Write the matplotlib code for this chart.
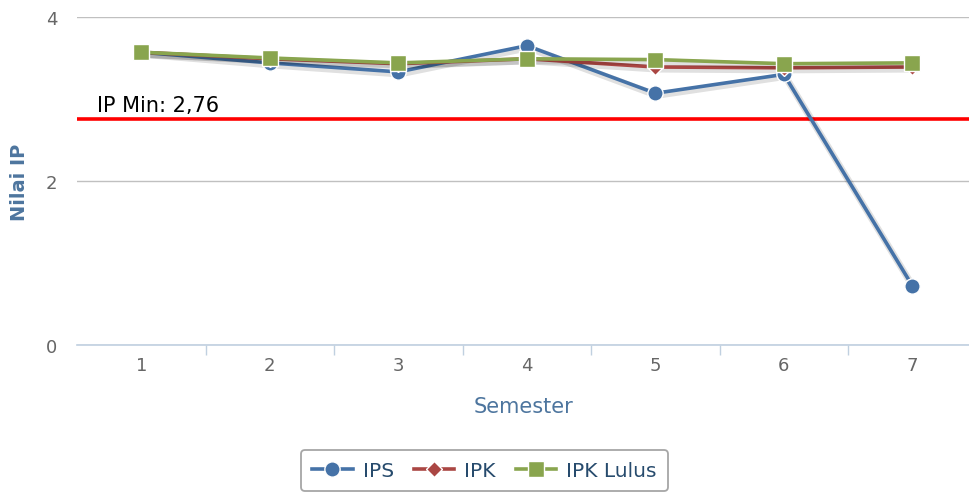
import matplotlib
matplotlib.use("Agg")
import matplotlib.pyplot as plt
import matplotlib.patheffects as pe
from matplotlib.ticker import FixedLocator

semester = [1, 2, 3, 4, 5, 6, 7]
ips = [3.57, 3.44, 3.33, 3.65, 3.07, 3.30, 0.72]
ipk = [3.57, 3.49, 3.43, 3.49, 3.39, 3.38, 3.39]
ipk_lulus = [3.57, 3.50, 3.44, 3.49, 3.48, 3.43, 3.44]
ip_min = 2.76
y_ticks = [0, 2, 4]

fig = plt.figure(figsize=(9.69, 5.02), dpi=100)
ax = fig.add_axes([0.0795, 0.3108, 0.9205, 0.6534])

shadow = [pe.SimpleLineShadow(offset=(1, -1.5), shadow_color="black", alpha=0.12, linewidth=5),
          pe.Normal()]

ax.axhline(ip_min, color="#ff0000", lw=2.6, zorder=2)
ax.text(0.656, 2.85, "IP Min: 2,76", fontsize=15, color="black",
        ha="left", va="baseline", zorder=3)

series = [
    (ips, "#4572a7", "o", 11, "IPS"),
    (ipk, "#aa4643", "D", 8, "IPK"),
    (ipk_lulus, "#89a54e", "s", 11, "IPK Lulus"),
]
for i, (vals, col, mk, size, name) in enumerate(series):
    ax.plot(semester, vals, color=col, lw=2.6, path_effects=shadow, zorder=4 + i)
    ax.plot(semester, vals, color=col, lw=0, marker=mk, ms=size,
            mec="white", mew=1, zorder=10 + i)
    # legend proxy
    ax.plot([], [], color=col, lw=2.6, marker=mk, ms=size, mec="white", mew=1, label=name)

ax.set_xlim(0.5, 7.44)
ax.set_ylim(0, 4)
ax.set_yticks(y_ticks)
ax.set_xticks(semester)
ax.xaxis.set_minor_locator(FixedLocator([s + 0.5 for s in semester]))
ax.tick_params(axis="x", which="major", length=0, pad=8, labelsize=13, labelcolor="#666666")
ax.tick_params(axis="x", which="minor", length=7, width=1, color="#c0d0e0")
ax.tick_params(axis="y", length=0, pad=14, labelsize=13, labelcolor="#666666")

ax.grid(axis="y", color="#c0c0c0", lw=1)
ax.set_axisbelow(True)
for s in ["top", "right", "left"]:
    ax.spines[s].set_visible(False)
ax.spines["bottom"].set_color("#c0d0e0")
ax.spines["bottom"].set_linewidth(1.2)

ax.set_xlabel("Semester", fontsize=15, color="#4d759e")
ax.xaxis.set_label_coords(0.5, -0.156)
ax.set_ylabel("Nilai IP", fontsize=14, color="#4d759e", fontweight="bold")
ax.yaxis.set_label_coords(-0.054, 0.5)

leg = ax.legend(loc="center", bbox_to_anchor=(0.5, 0.06), bbox_transform=fig.transFigure,
                ncol=3, fontsize=14.5, frameon=True, handlelength=2.0, columnspacing=1.0,
                handletextpad=0.5, borderpad=0.55, fancybox=True)
leg.get_frame().set_edgecolor("#909090")
leg.get_frame().set_linewidth(1.3)
for t in leg.get_texts():
    t.set_color("#274b6d")

fig.savefig("out.png", dpi=100)
